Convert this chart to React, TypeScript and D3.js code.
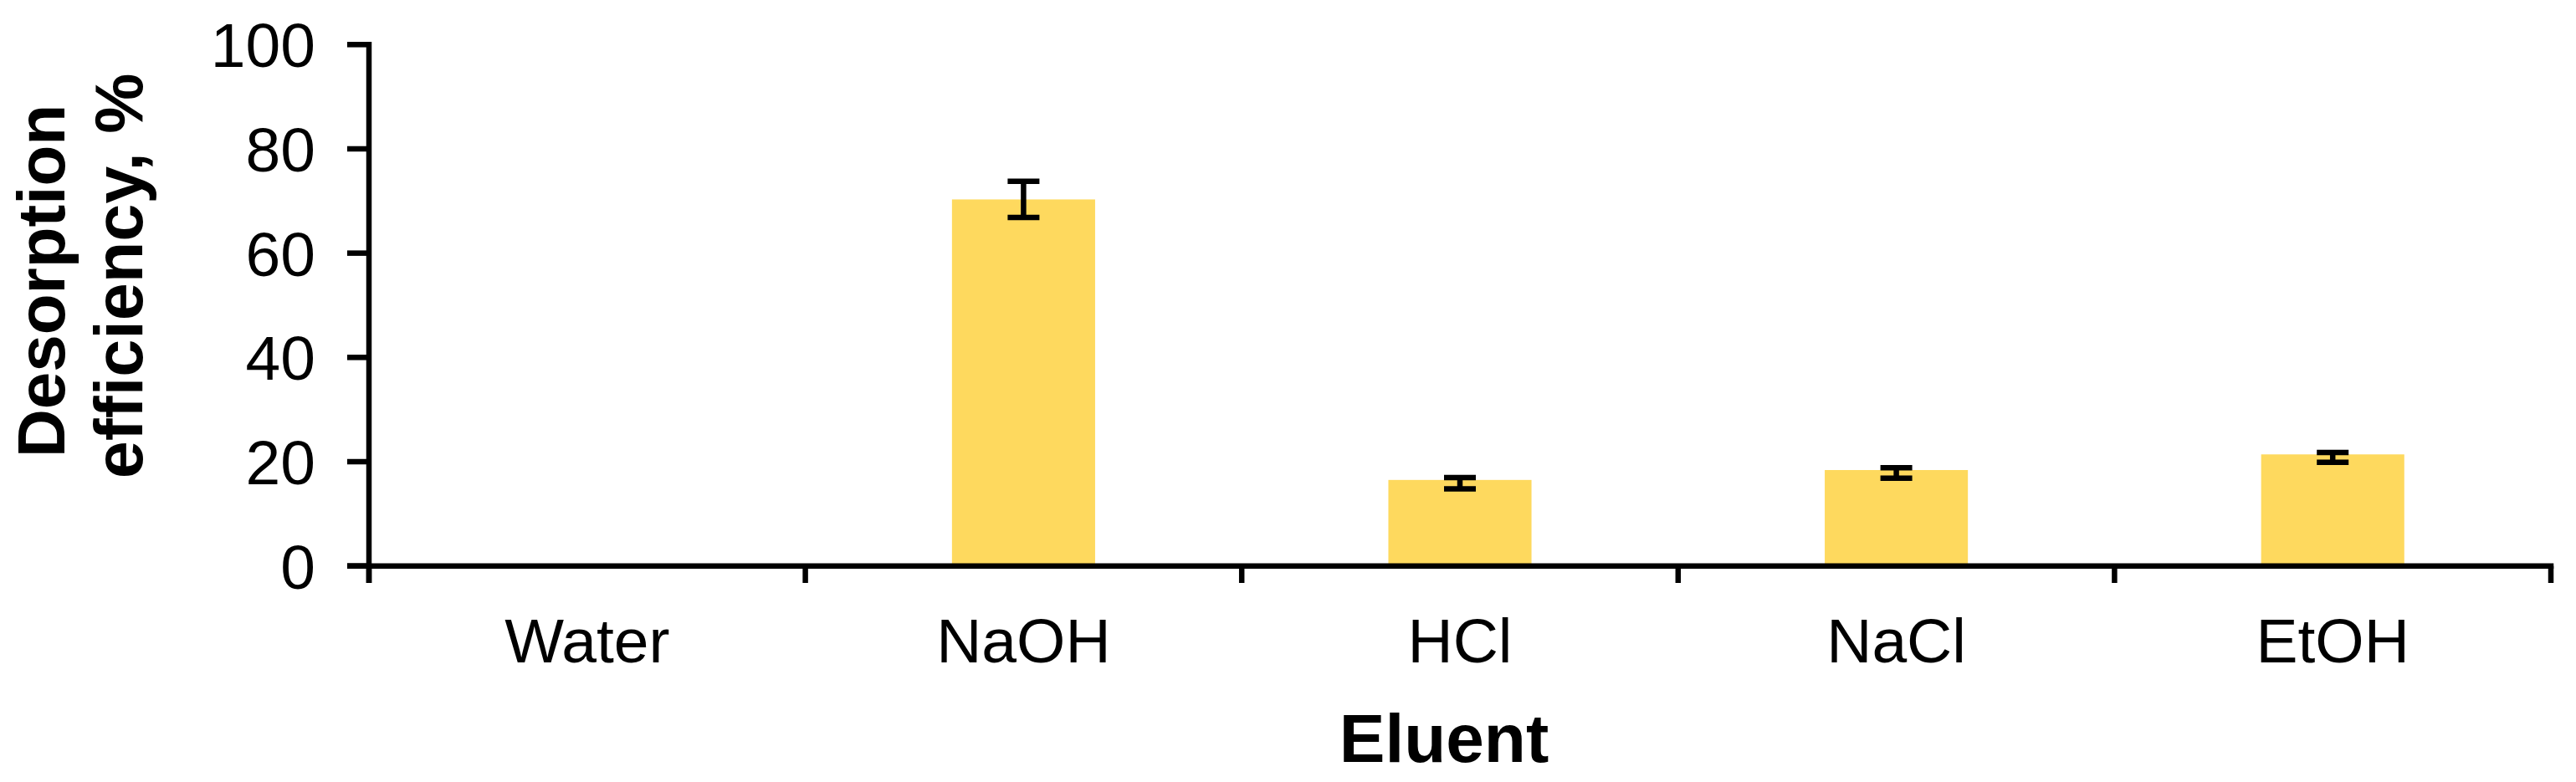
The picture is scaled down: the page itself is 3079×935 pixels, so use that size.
import React from "react";
import * as d3 from "d3";

const categories = ["Water", "NaOH", "HCl", "NaCl", "EtOH"];
const values = [0, 70.3, 16.5, 18.4, 21.4];
const errUp = [0, 3.5, 0.45, 0.45, 0.35];
const errDown = [0, 3.45, 1.7, 1.55, 1.5];
const hasError = [false, true, true, true, true];
const yTicks = [0, 20, 40, 60, 80, 100];

const W = 3079;
const H = 935;
const FONT = "'Liberation Sans', Arial, Helvetica, sans-serif";
const BAR = "#FED95E";
const SW = 6.5;

export default function App() {
  const x = d3.scaleBand<string>().domain(categories).range([441, 3049]).padding(0);
  const y = d3.scaleLinear().domain([0, 100]).range([676.7, 53.3]);
  const barW = x.bandwidth() * 0.328;
  const capW = 38;
  const boundaries = categories.map((c) => x(c) as number).concat([x.range()[1]]);

  return (
    <svg
      width={W}
      height={H}
      viewBox={`0 0 ${W} ${H}`}
      style={{ position: "absolute", left: 0, top: 0, background: "#fff" }}
      fontFamily={FONT}
    >
      <rect x={0} y={0} width={W} height={H} fill="#fff" />
      {/* bars */}
      {categories.map((c, i) => {
        const cx = (x(c) as number) + x.bandwidth() / 2;
        return (
          <rect
            key={c}
            x={cx - barW / 2}
            y={y(values[i])}
            width={barW}
            height={y(0) - y(values[i])}
            fill={BAR}
          />
        );
      })}
      {/* error bars */}
      {categories.map((c, i) => {
        if (!hasError[i]) return null;
        const cx = (x(c) as number) + x.bandwidth() / 2;
        const yt = y(values[i] + errUp[i]);
        const yb = y(values[i] - errDown[i]);
        return (
          <g key={c} stroke="#000" strokeWidth={SW}>
            <line x1={cx} x2={cx} y1={yt} y2={yb} />
            <line x1={cx - capW / 2} x2={cx + capW / 2} y1={yt} y2={yt} />
            <line x1={cx - capW / 2} x2={cx + capW / 2} y1={yb} y2={yb} />
          </g>
        );
      })}
      {/* y axis */}
      <line x1={441} x2={441} y1={y(100) - SW / 2} y2={697} stroke="#000" strokeWidth={SW} />
      {yTicks.map((t) => (
        <g key={t}>
          <line x1={415} x2={441} y1={y(t)} y2={y(t)} stroke="#000" strokeWidth={SW} />
          <text x={377} y={y(t)} dy="0.36em" textAnchor="end" fontSize={75} fill="#000">
            {t}
          </text>
        </g>
      ))}
      {/* x axis */}
      <line x1={415} x2={x.range()[1] + SW / 2} y1={y(0)} y2={y(0)} stroke="#000" strokeWidth={SW} />
      {boundaries.map((bx, i) => (
        <line key={i} x1={bx} x2={bx} y1={y(0)} y2={697} stroke="#000" strokeWidth={SW} />
      ))}
      {categories.map((c) => (
        <text
          key={c}
          x={(x(c) as number) + x.bandwidth() / 2}
          y={792}
          textAnchor="middle"
          fontSize={75}
          fill="#000"
        >
          {c}
        </text>
      ))}
      {/* axis titles */}
      <text x={1726} y={911} textAnchor="middle" fontSize={82} fontWeight="bold" fill="#000">
        Eluent
      </text>
      <text
        transform="translate(77,336) rotate(-90)"
        textAnchor="middle"
        fontSize={80}
        fontWeight="bold"
        fill="#000"
      >
        Desorption
      </text>
      <text
        transform="translate(170,330) rotate(-90)"
        textAnchor="middle"
        fontSize={81}
        fontWeight="bold"
        fill="#000"
      >
        efficiency, %
      </text>
    </svg>
  );
}
